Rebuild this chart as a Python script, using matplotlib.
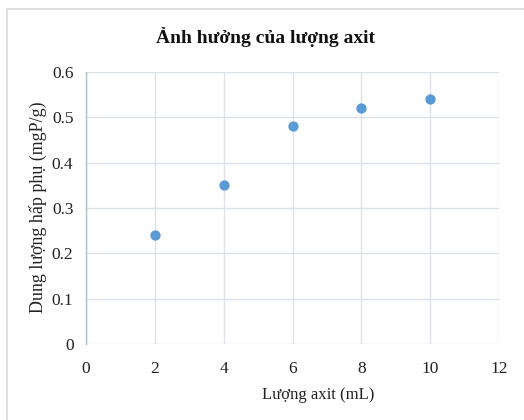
import matplotlib.pyplot as plt
from matplotlib.patches import Rectangle

# lượng axit (mL) vs dung lượng hấp phụ (mgP/g)
acid_ml = [2, 4, 6, 8, 10]
capacity = [0.24, 0.35, 0.48, 0.52, 0.54]
x_ticks = [0, 2, 4, 6, 8, 10, 12]
y_ticks = [0, 0.1, 0.2, 0.3, 0.4, 0.5, 0.6]
y_labels = ['0', '0.1', '0.2', '0.3', '0.4', '0.5', '0.6']

plt.rcParams['font.family'] = ['Liberation Serif', 'DejaVu Serif']

W, H = 524, 420
fig = plt.figure(figsize=(W / 100, H / 100), dpi=100)
ax = fig.add_axes([86 / W, 1 - 344 / H, (499 - 86) / W, (344 - 72) / H])

# chart frame (only left/top edges fall inside the canvas)
fig.patches.append(Rectangle((7 / W, -0.1), 1.2, 1 - 9 / H + 0.1,
                             transform=fig.transFigure, fill=False,
                             edgecolor='#d9d9d9', linewidth=1.2))

ax.scatter(acid_ml, capacity, s=55, color='#5b9bd5', zorder=3, linewidths=0)

ax.set_xlim(0, 12)
ax.set_ylim(0, 0.6)
ax.set_xticks(x_ticks)
ax.set_yticks(y_ticks)
ax.set_yticklabels(y_labels)
ax.grid(True, color='#dde1e8', linewidth=1)
ax.set_axisbelow(True)
for side in ['top', 'right', 'bottom']:
    ax.spines[side].set_visible(False)
ax.spines['left'].set_color('#b4bccb')
ax.spines['left'].set_linewidth(1)
ax.tick_params(length=0, labelsize=12.5, colors='#222222', pad=9)
ax.tick_params(axis='x', pad=12)

fig.text(266 / W, 1 - 37 / H, 'Ảnh hưởng của lượng axit', ha='center',
         va='center', fontsize=14, fontweight='bold', color='#111111')
fig.text(318 / W, 1 - 395 / H, 'Lượng axit (mL)', ha='center', va='center',
         fontsize=12, color='#222222')
fig.text(38 / W, 1 - 207 / H, 'Dung lượng hấp phụ (mgP/g)', ha='center',
         va='center', rotation=90, fontsize=12.9, color='#222222')

fig.savefig('out.png', dpi=100)
